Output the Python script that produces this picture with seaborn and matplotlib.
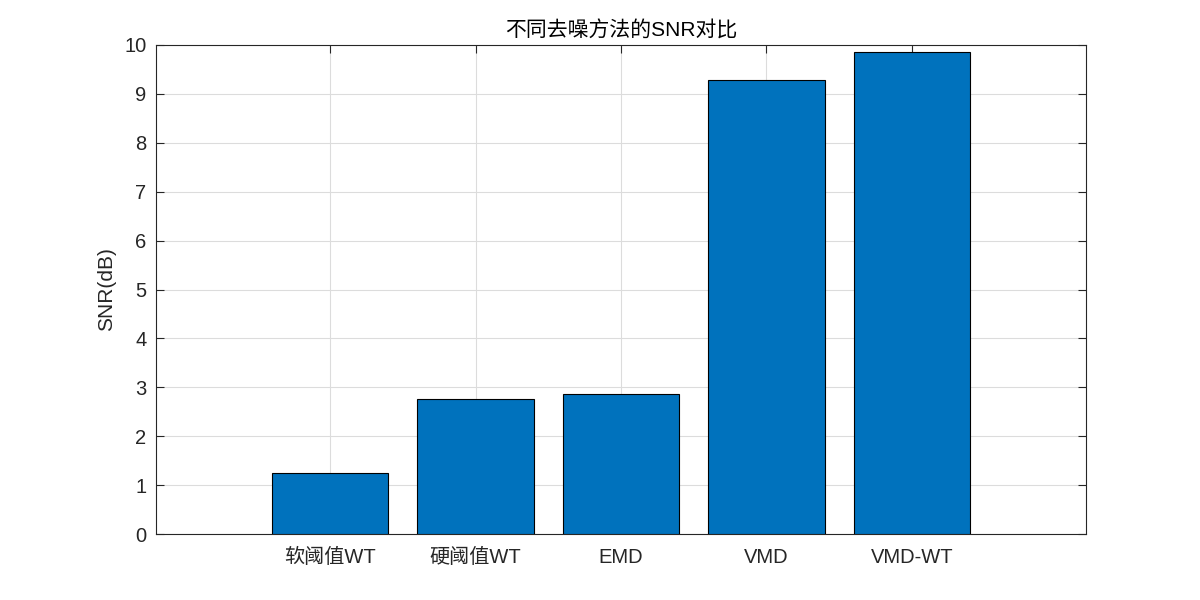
import numpy as np
import pandas as pd
import matplotlib
matplotlib.use("Agg")
import matplotlib.pyplot as plt
import seaborn as sns

# SNR values
methods = ['软阈值WT', '硬阈值WT', 'EMD', 'VMD', 'VMD-WT']
snr_db = [1.245, 2.755, 2.857, 9.286, 9.857]

df = pd.DataFrame({'method': methods, 'snr': snr_db})

sns.set_style('ticks')
plt.rcParams['font.family'] = ['Liberation Sans', 'Noto Sans CJK SC', 'DejaVu Sans']
plt.rcParams['axes.unicode_minus'] = False

fig = plt.figure(figsize=(12, 6), dpi=100)
ax = fig.add_axes([0.13, 0.11, 0.775, 0.815])

sns.barplot(data=df, x='method', y='snr', color='#0072BD', saturation=1,
            edgecolor='black', linewidth=0.8, width=0.8, ax=ax, zorder=3)

ax.set_xlim(-1.196, len(methods) - 1 + 1.196)
ax.set_ylim(0, 10)
ax.set_yticks(np.arange(0, 11, 1))

# MATLAB look: grid, box on, inward ticks on all sides
ax.grid(True, color='#dcdcdc', linewidth=0.8, zorder=0)
ax.set_axisbelow(True)
for s in ax.spines.values():
    s.set_visible(True)
    s.set_color('#262626')
    s.set_linewidth(0.8)
ax.tick_params(direction='in', length=6, width=0.8, top=True, right=True,
               colors='#262626', labelsize=14.5)
ax.tick_params(axis='x', pad=10)
ax.tick_params(axis='y', pad=7)

ax.set_xlabel('')
ax.set_ylabel('SNR(dB)', fontsize=15, color='#262626', labelpad=6)
ax.set_title('不同去噪方法的SNR对比', fontsize=15, color='black', pad=6)

fig.savefig('out.png', dpi=100)
